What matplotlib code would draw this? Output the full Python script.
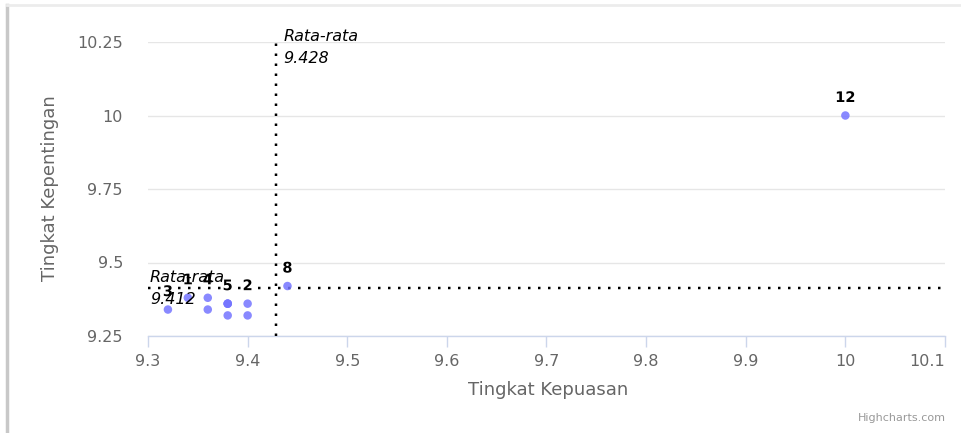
import matplotlib
matplotlib.use("Agg")
import matplotlib.pyplot as plt
from matplotlib.lines import Line2D
import matplotlib.patheffects as pe

# Data
names = ["1", "2", "3", "4", "5", "6", "7", "8", "9", "10", "11", "12"]
kepuasan = [9.34, 9.40, 9.32, 9.36, 9.38, 9.36, 9.38, 9.44, 9.40, 9.38, 9.38, 10.00]
kepentingan = [9.38, 9.36, 9.34, 9.38, 9.36, 9.34, 9.32, 9.42, 9.32, 9.36, 9.36, 10.00]
shown_labels = ["1", "2", "3", "4", "5", "8", "12"]
mean_x = 9.428
mean_y = 9.412
xticks = [9.3, 9.4, 9.5, 9.6, 9.7, 9.8, 9.9, 10.0, 10.1]
xticklabels = ["9.3", "9.4", "9.5", "9.6", "9.7", "9.8", "9.9", "10", "10.1"]
yticks = [9.25, 9.5, 9.75, 10.0, 10.25]
yticklabels = ["9.25", "9.5", "9.75", "10", "10.25"]

W, H = 962, 433
fig = plt.figure(figsize=(W / 100, H / 100), dpi=100)
px = 0.72  # points per pixel

ax = fig.add_axes([148 / W, 1 - 336 / H, (945 - 148) / W, (336 - 42) / H])
ax.set_xlim(9.3, 10.1)
ax.set_ylim(9.25, 10.25)

ax.set_yticks(yticks)
ax.set_yticklabels(yticklabels)
ax.set_xticks(xticks)
ax.set_xticklabels(xticklabels)
ax.yaxis.grid(True, color="#e6e6e6", linewidth=1)
ax.xaxis.grid(False)
ax.set_axisbelow(True)
for s in ["top", "right", "left"]:
    ax.spines[s].set_visible(False)
ax.spines["bottom"].set_color("#ccd6eb")
ax.spines["bottom"].set_linewidth(1)
ax.tick_params(axis="x", direction="out", length=11 * px, width=1, color="#ccd6eb",
               labelsize=11.5, labelcolor="#666666", pad=5)
ax.tick_params(axis="y", length=0, labelsize=11.5, labelcolor="#666666", pad=25 * px)
labs = ax.get_xticklabels()
labs[-1].set_ha("right")

# mean lines
ax.axvline(mean_x, color="black", linewidth=2.5 * px, linestyle=(0, (1, 3)), zorder=3)
ax.axhline(mean_y, color="black", linewidth=2.5 * px, linestyle=(0, (1, 3)), zorder=3)

# points
ax.scatter(kepuasan, kepentingan, s=(8.5 * px) ** 2, color="#7575ff", alpha=0.85,
           edgecolors="none", zorder=4)

for n, xv, yv in zip(names, kepuasan, kepentingan):
    if n in shown_labels:
        ax.annotate(n, (xv, yv), xytext=(0, 18 * px), textcoords="offset points",
                    ha="center", va="center", fontsize=10.5, fontweight="bold",
                    color="black", zorder=6,
                    path_effects=[pe.withStroke(linewidth=2.5, foreground="white")])

# mean labels
ax.annotate("Rata-rata\n9.428", (mean_x, 10.25), xytext=(8 * px, 13 * px),
            textcoords="offset points", ha="left", va="top", fontsize=11.5,
            style="italic", color="black", linespacing=1.6, zorder=6,
            annotation_clip=False)
ax.annotate("Rata-rata\n9.412", (9.3, mean_y), xytext=(2 * px, 0),
            textcoords="offset points", ha="left", va="center", fontsize=11.5,
            style="italic", color="black", linespacing=1.6, zorder=6,
            annotation_clip=False)

# axis titles
fig.text(548 / W, 1 - 390 / H, "Tingkat Kepuasan", ha="center", va="center",
         fontsize=13, color="#666666")
fig.text(50 / W, 1 - 188 / H, "Tingkat Kepentingan", ha="center", va="center",
         fontsize=13, color="#666666", rotation=90)
fig.text(946 / W, 1 - 418 / H, "Highcharts.com", ha="right", va="center",
         fontsize=8, color="#999999")

# card border
fig.add_artist(Line2D([7 / W, 7 / W], [0, 1 - 5 / H], transform=fig.transFigure,
                      color="#c8c8c8", linewidth=2.5))
fig.add_artist(Line2D([7 / W, 1], [1 - 5 / H, 1 - 5 / H], transform=fig.transFigure,
                      color="#ececec", linewidth=2))

fig.savefig("out.png", dpi=100)
